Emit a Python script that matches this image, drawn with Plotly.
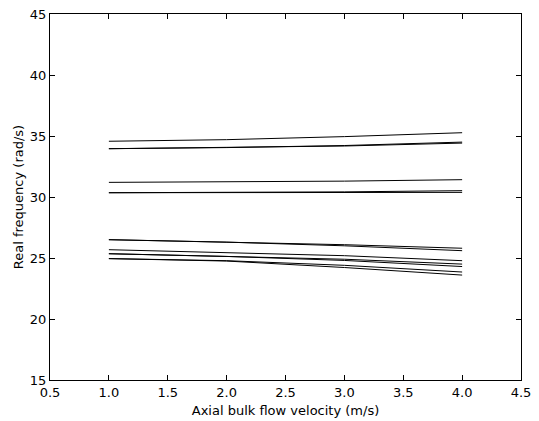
import plotly.graph_objects as go

velocity = [1.0, 2.0, 3.0, 4.0]

series = [
    [34.57, 34.70, 34.95, 35.27],
    [33.96, 34.05, 34.22, 34.50],
    [33.96, 34.04, 34.18, 34.42],
    [31.20, 31.24, 31.30, 31.42],
    [30.35, 30.37, 30.42, 30.52],
    [30.35, 30.35, 30.35, 30.38],
    [26.50, 26.31, 26.09, 25.80],
    [26.50, 26.30, 26.00, 25.60],
    [25.68, 25.46, 25.19, 24.78],
    [25.35, 25.13, 24.90, 24.50],
    [25.35, 25.13, 24.80, 24.30],
    [24.95, 24.78, 24.40, 23.85],
    [24.95, 24.75, 24.22, 23.60],
]

x_ticks = [0.5, 1.0, 1.5, 2.0, 2.5, 3.0, 3.5, 4.0, 4.5]
y_ticks = [15, 20, 25, 30, 35, 40, 45]

fig = go.Figure()
for s in series:
    fig.add_trace(go.Scatter(x=velocity, y=s, mode="lines",
                             line=dict(color="black", width=1),
                             showlegend=False, hoverinfo="skip"))

axis_common = dict(showline=True, linecolor="black", linewidth=1, mirror="allticks",
                   ticks="inside", ticklen=5, tickwidth=1, tickcolor="black",
                   showgrid=False, zeroline=False, automargin=False,
                   tickfont=dict(family="DejaVu Sans", size=13, color="black"))

fig.update_layout(
    width=539, height=421,
    margin=dict(l=50, r=18, t=14, b=41),
    paper_bgcolor="white", plot_bgcolor="white",
    font=dict(family="DejaVu Sans", size=13, color="black"),
    xaxis=dict(range=[0.5, 4.5], tickvals=x_ticks,
               ticktext=[f"{v:.1f}" for v in x_ticks],
               title=dict(text="Axial bulk flow velocity (m/s)", standoff=7,
                          font=dict(family="DejaVu Sans", size=13)),
               **axis_common),
    yaxis=dict(range=[15, 45], tickvals=y_ticks,
               ticktext=[str(v) for v in y_ticks],
               title=dict(text="Real frequency (rad/s)", standoff=3,
                          font=dict(family="DejaVu Sans", size=13)),
               **axis_common),
)

fig.write_html("out.html")
